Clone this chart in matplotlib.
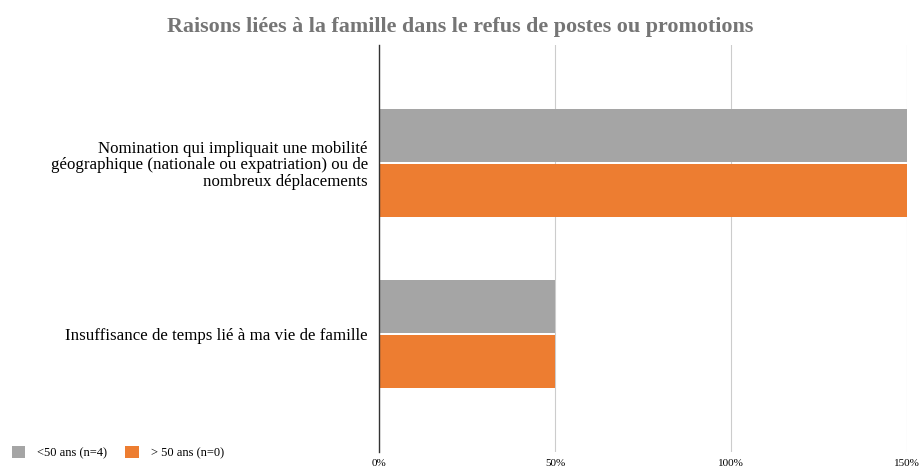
import matplotlib.pyplot as plt
import numpy as np

categories = [
    "Nomination qui impliquait une mobilité\ngéographique (nationale ou expatriation) ou de\nnombreux déplacements",
    "Insuffisance de temps lié à ma vie de famille",
]
under_50 = [150, 50]
over_50 = [150, 50]
series_labels = ["<50 ans (n=4)", "> 50 ans (n=0)"]
xticks = [0, 50, 100, 150]

plt.rcParams['font.family'] = ['Liberation Serif', 'DejaVu Serif']

fig = plt.figure(figsize=(9.21, 4.74), dpi=100)
ax = fig.add_axes([0.4115, 0.0464, 0.5733, 0.8586])

y = np.arange(len(categories))
h = 0.31
ax.barh(y - 0.162, under_50, height=h, color='#a5a5a5', label=series_labels[0], zorder=3)
ax.barh(y + 0.162, over_50, height=h, color='#ed7d31', label=series_labels[1], zorder=3)

ax.set_xlim(0, 150)
ax.set_ylim(1.69, -0.69)
ax.set_xticks(xticks)
ax.set_xticklabels([f"{t}%" for t in xticks], fontsize=8)
ax.set_yticks(y)
ax.set_yticklabels(categories, fontsize=12.2, ha='right', linespacing=1.08)
ax.tick_params(axis='both', length=0)
ax.tick_params(axis='y', pad=8)
ax.tick_params(axis='x', pad=5)

ax.grid(axis='x', color='#cccccc', linewidth=0.8, zorder=0)
for s in ['top', 'right', 'bottom']:
    ax.spines[s].set_visible(False)
ax.spines['left'].set_color('#333333')
ax.spines['left'].set_linewidth(1)
ax.spines['left'].set_zorder(4)

fig.text(0.5, 0.942, "Raisons liées à la famille dans le refus de postes ou promotions",
         ha='center', va='center', fontsize=15.8, fontweight='bold', color='#757575')

fig.legend(loc='lower left', bbox_to_anchor=(0.0005, 0.008), ncol=2, frameon=False,
           fontsize=9, handlelength=1.1, handleheight=1.1, columnspacing=1.45, handletextpad=0.95)

fig.savefig('out.png', dpi=100)
